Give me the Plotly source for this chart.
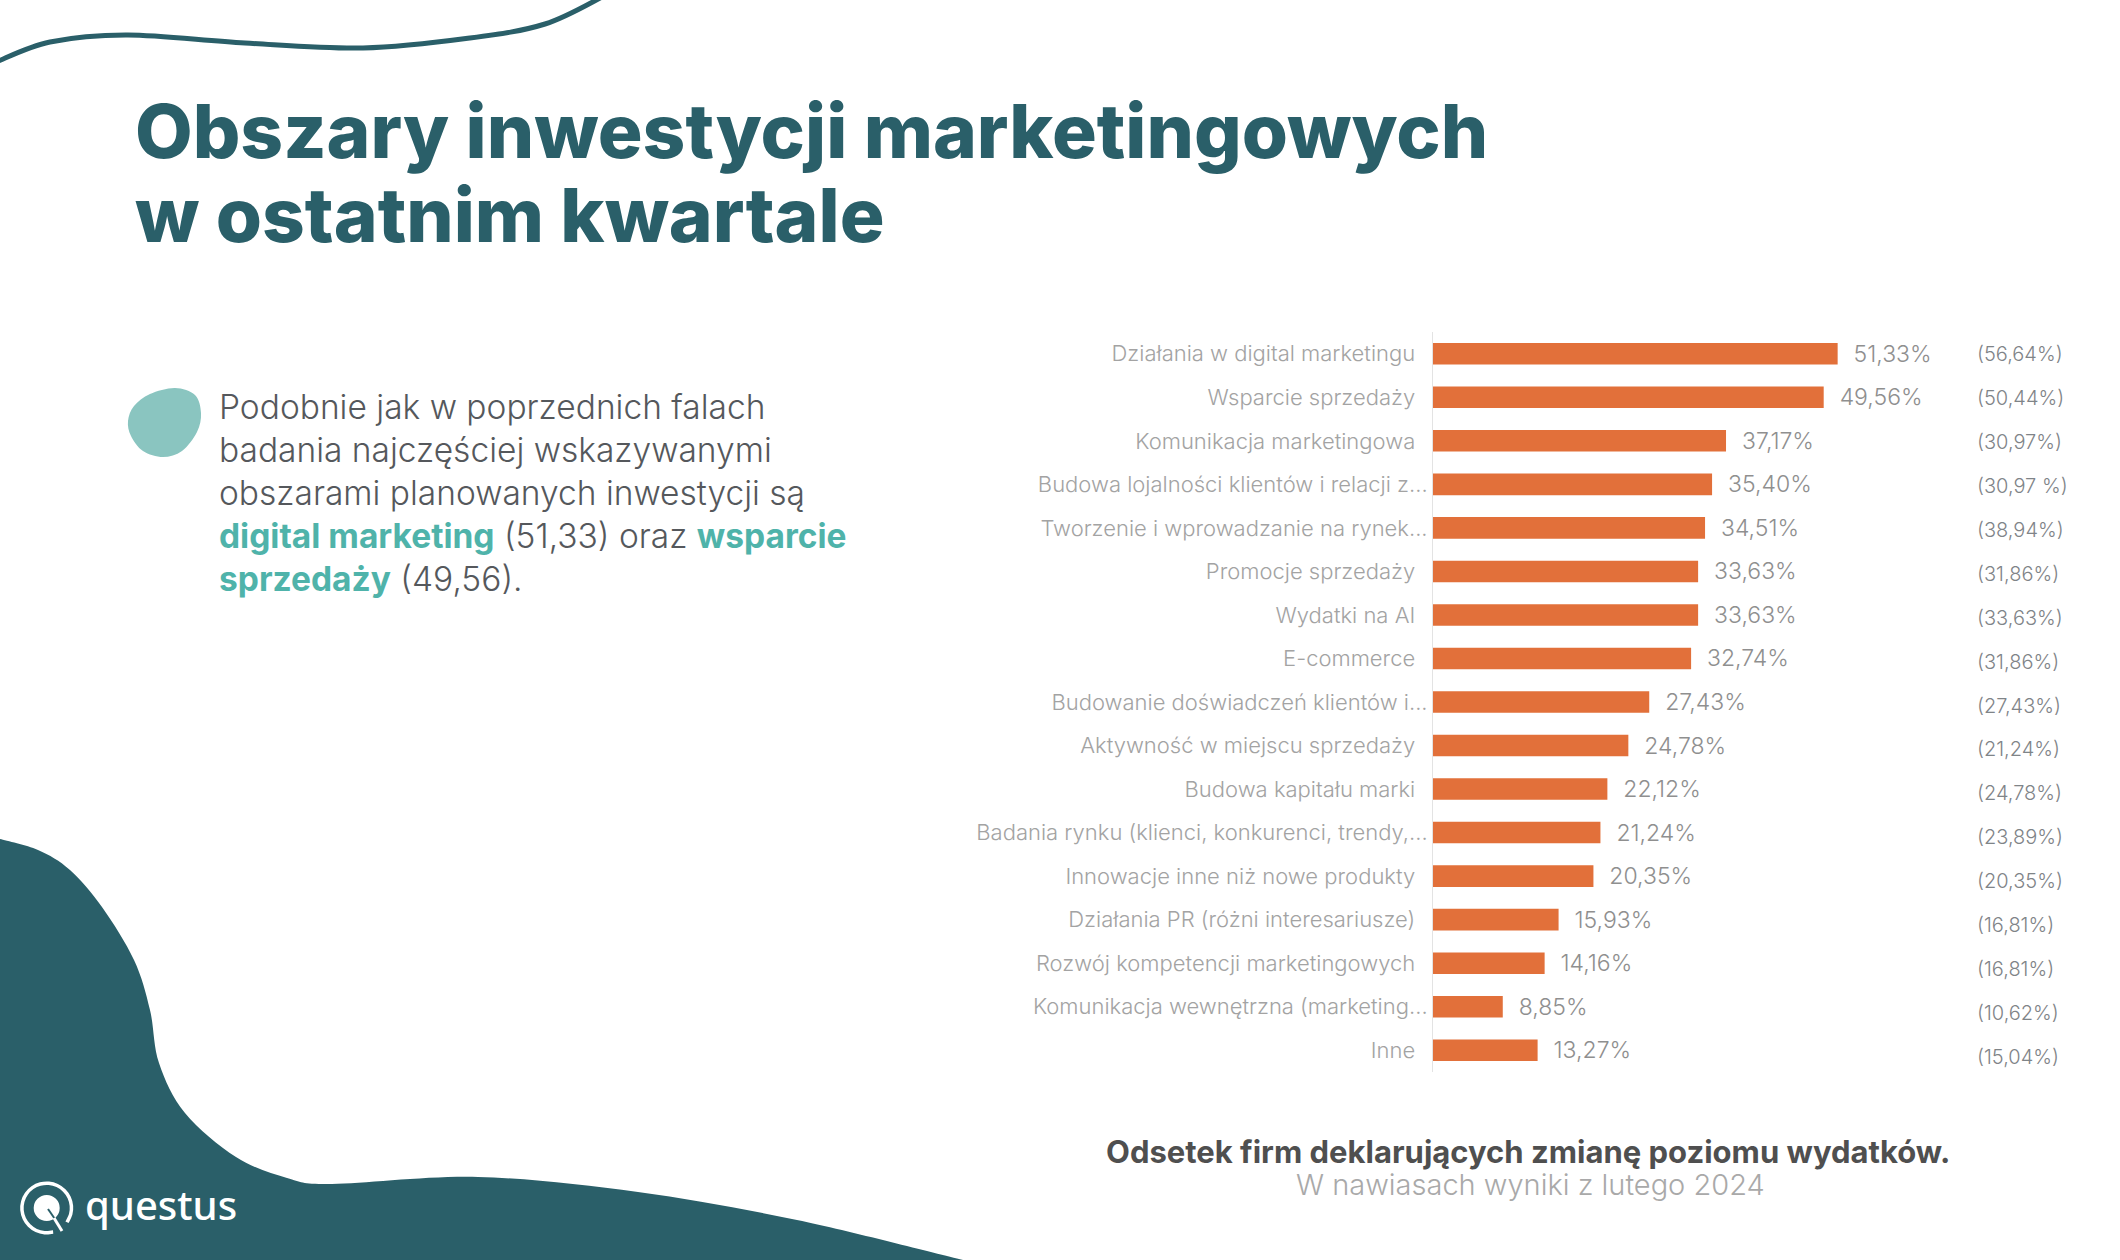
import math
import plotly.graph_objects as go

W = 2120
H = 1260

categories = [
    "Działania w digital marketingu",
    "Wsparcie sprzedaży",
    "Komunikacja marketingowa",
    "Budowa lojalności klientów i relacji z...",
    "Tworzenie i wprowadzanie na rynek...",
    "Promocje sprzedaży",
    "Wydatki na AI",
    "E-commerce",
    "Budowanie doświadczeń klientów i...",
    "Aktywność w miejscu sprzedaży",
    "Budowa kapitału marki",
    "Badania rynku (klienci, konkurenci, trendy,...",
    "Innowacje inne niż nowe produkty",
    "Działania PR (różni interesariusze)",
    "Rozwój kompetencji marketingowych",
    "Komunikacja wewnętrzna (marketing...",
    "Inne",
]
values = [51.33, 49.56, 37.17, 35.40, 34.51, 33.63, 33.63, 32.74, 27.43,
          24.78, 22.12, 21.24, 20.35, 15.93, 14.16, 8.85, 13.27]
previous = ["(56,64%)", "(50,44%)", "(30,97%)", "(30,97 %)", "(38,94%)", "(31,86%)",
            "(33,63%)", "(31,86%)", "(27,43%)", "(21,24%)", "(24,78%)", "(23,89%)",
            "(20,35%)", "(16,81%)", "(16,81%)", "(10,62%)", "(15,04%)"]

DARK = "#2a5f69"
TEAL = "#4fb3aa"
ORANGE = "#e2703a"
FONT = "Inter"


def px(x, y):
    # pixel position on the slide -> paper coordinates
    return f"{x / W:.5f} {1 - y / H:.5f}"


def smooth_path(points, closed=False):
    # catmull-rom through the outline points, written as bezier segments
    pts = list(points)
    n = len(pts)
    path = "M " + px(*pts[0])
    last = n if closed else n - 1
    for i in range(last):
        if closed:
            p0, p1, p2, p3 = pts[i - 1], pts[i], pts[(i + 1) % n], pts[(i + 2) % n]
        else:
            p0, p1, p2, p3 = pts[max(i - 1, 0)], pts[i], pts[i + 1], pts[min(i + 2, n - 1)]
        c1 = (p1[0] + (p2[0] - p0[0]) / 6, p1[1] + (p2[1] - p0[1]) / 6)
        c2 = (p2[0] - (p3[0] - p1[0]) / 6, p2[1] - (p3[1] - p1[1]) / 6)
        path += " C " + px(*c1) + ", " + px(*c2) + ", " + px(*p2)
    return path


wave_line = [(-4, 62), (50, 42), (128, 35), (245, 43), (363, 48), (470, 38), (545, 24), (604, -4)]
corner_blob = [(0, 839), (38, 850), (70, 870), (102, 907), (134, 960), (150, 1010), (159, 1063),
               (185, 1113), (236, 1157), (287, 1178), (332, 1184), (478, 1177), (638, 1192),
               (797, 1220), (963, 1260)]
bullet_blob = [(175, 388), (195, 395), (201, 413), (197, 432), (182, 451), (163, 457),
               (143, 451), (131, 436), (128, 421), (134, 406), (150, 394)]

# logo ring, open at the lower right where the tail of the Q goes through
LOGO_X, LOGO_Y = 46.7, 1208
logo_ring = [(LOGO_X + 24.8 * math.cos(math.radians(a)), LOGO_Y + 24.8 * math.sin(math.radians(a)))
             for a in range(35, -305, -20)]

# whole labels sit further from the axis than the cut ones
tick_text = [c if c.endswith("...") else c + "\u00a0\u00a0" for c in categories]

fig = go.Figure()

fig.add_trace(go.Bar(
    x=values, y=categories, orientation="h",
    marker=dict(color=ORANGE, line=dict(width=0)),
    texttemplate="\u00a0\u00a0%{x:.2f}%", textposition="outside", cliponaxis=False,
    constraintext="none",
    textfont=dict(family=FONT, size=23, color="#8f8f8f", weight=300),
))

# column with the February results, its rows are spaced a little wider than the bars
fig.add_trace(go.Scatter(
    x=[0] * len(previous), y=categories, text=previous, mode="text",
    textposition="middle right", cliponaxis=False,
    textfont=dict(family=FONT, size=20, color="#7f8488", weight=300),
    xaxis="x2", yaxis="y2",
))

shapes = [
    dict(type="path", xref="paper", yref="paper", path=smooth_path(corner_blob) + " L " + px(0, 1260) + " Z",
         fillcolor=DARK, line=dict(width=0), layer="below"),
    dict(type="path", xref="paper", yref="paper", path=smooth_path(wave_line),
         line=dict(color=DARK, width=5), layer="below"),
    dict(type="path", xref="paper", yref="paper", path=smooth_path(bullet_blob, closed=True) + " Z",
         fillcolor="#8ac5c0", line=dict(width=0), layer="below"),
    # logo mark
    dict(type="path", xref="paper", yref="paper", path=smooth_path(logo_ring),
         line=dict(color="white", width=3.5)),
    dict(type="circle", xref="paper", yref="paper",
         x0=(LOGO_X - 13) / W, x1=(LOGO_X + 13) / W, y0=1 - (LOGO_Y + 13) / H, y1=1 - (LOGO_Y - 13) / H,
         fillcolor="white", line=dict(width=0)),
    dict(type="line", xref="paper", yref="paper",
         x0=48 / W, x1=57 / W, y0=1 - 1209 / H, y1=1 - 1222 / H,
         line=dict(color=DARK, width=2)),
    dict(type="line", xref="paper", yref="paper",
         x0=54 / W, x1=62 / W, y0=1 - 1218 / H, y1=1 - 1231 / H,
         line=dict(color="white", width=3)),
]


def note(x, y, text, size, color, weight=400, anchor="left", family=FONT):
    return dict(x=x / W, y=1 - y / H, xref="paper", yref="paper", text=text, showarrow=False,
                xanchor=anchor, yanchor="middle", align=anchor,
                font=dict(family=family, size=size, color=color, weight=weight))


def bold(s):
    return f"<b style='color:{TEAL}'>{s}</b>"


body = "#55585c"
annotations = [
    note(133, 131, "Obszary inwestycji marketingowych", 74.7, DARK, 800),
    note(133, 215, "w ostatnim kwartale", 74.7, DARK, 800),
    note(217, 407, "Podobnie jak w poprzednich falach", 33.5, body, 300),
    note(217, 450, "badania najczęściej wskazywanymi", 33.5, body, 300),
    note(217, 493, "obszarami planowanych inwestycji są", 33.5, body, 300),
    note(217, 536, bold("digital marketing") + " (51,33) oraz " + bold("wsparcie"), 33.5, body, 300),
    note(217, 579, bold("sprzedaży") + " (49,56).", 33.5, body, 300),
    note(1528, 1151, "Odsetek firm deklarujących zmianę poziomu wydatków.", 31, "#4f4f4f", 700, "center"),
    note(1530, 1184, "W nawiasach wyniki z lutego 2024", 29, "#a9a9a9", 300, "center"),
    note(83, 1204, "questus", 40, "white", 500, family="Noto Sans"),
]

fig.update_layout(
    width=W, height=H,
    margin=dict(l=0, r=0, t=0, b=0),
    paper_bgcolor="white", plot_bgcolor="rgba(0,0,0,0)",
    showlegend=False, separators=", ",
    bargap=0.505,
    shapes=shapes, annotations=annotations,
    xaxis=dict(domain=[1433 / W, 1906 / W], range=[0, 60], visible=False),
    yaxis=dict(domain=[1 - 1072 / H, 1 - 332 / H], range=[16.5, -0.5],
               tickmode="array", tickvals=categories, ticktext=tick_text,
               ticks="", showgrid=False, zeroline=False,
               showline=True, linecolor="#e3e3e3", linewidth=1,
               tickfont=dict(family=FONT, size=22, color="#a3a3a3", weight=300)),
    xaxis2=dict(domain=[1977 / W, 2112 / W], range=[0, 1], visible=False, anchor="y2"),
    yaxis2=dict(domain=[1 - 1081 / H, 1 - 334 / H], range=[16.5, -0.5], visible=False, anchor="x2",
                categoryorder="array", categoryarray=categories),
)

# page body has a default margin that would push the slide off the window
fig.write_html("out.html", config=dict(displayModeBar=False),
               post_script="document.body.style.margin='0';")
